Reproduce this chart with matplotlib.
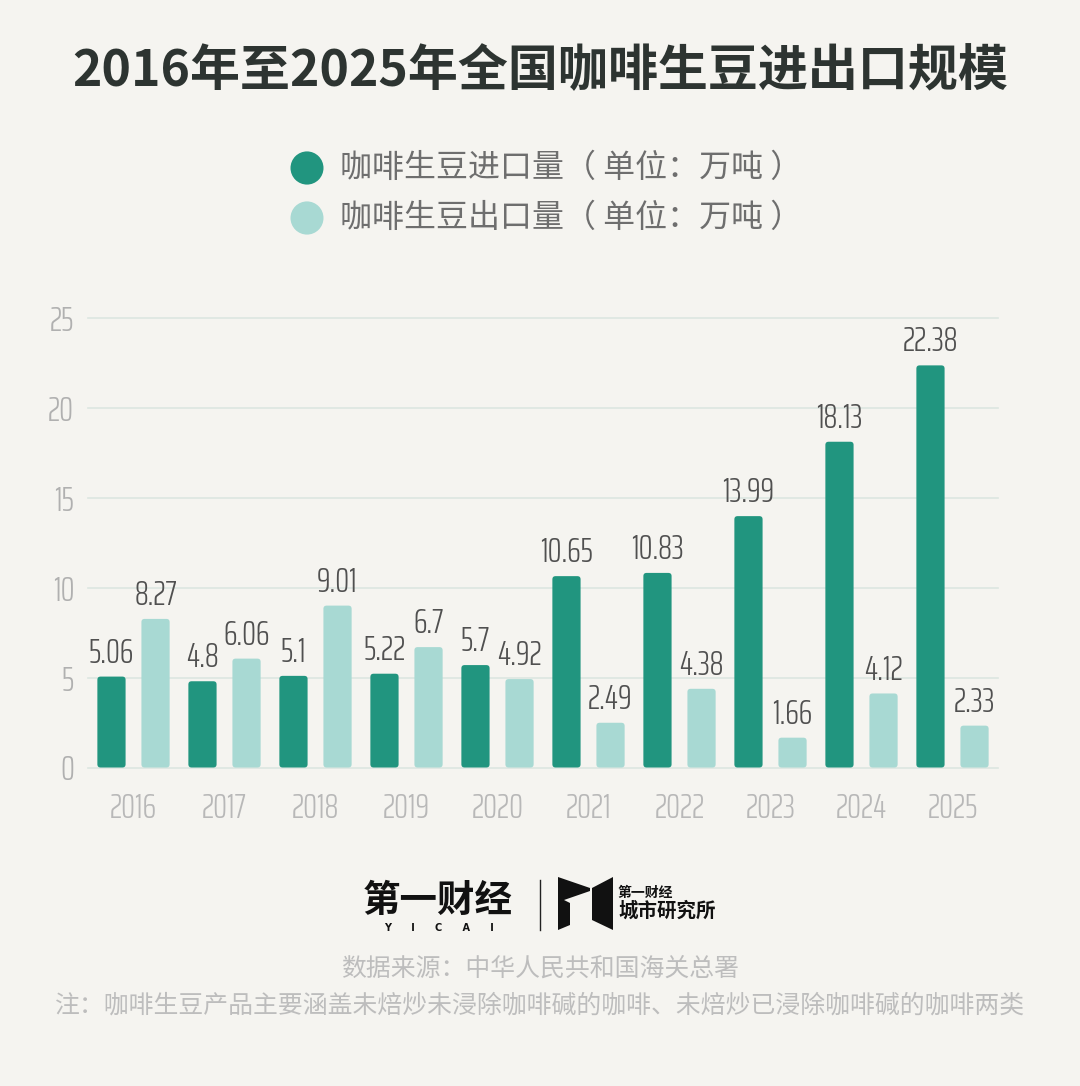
import matplotlib
matplotlib.use("Agg")
import matplotlib.pyplot as plt
from matplotlib.patches import FancyBboxPatch, Polygon, Circle
from matplotlib.lines import Line2D
import numpy as np

# ---- data ----
years = ["2016", "2017", "2018", "2019", "2020", "2021", "2022", "2023", "2024", "2025"]
imports = [5.06, 4.8, 5.1, 5.22, 5.7, 10.65, 10.83, 13.99, 18.13, 22.38]
exports = [8.27, 6.06, 9.01, 6.7, 4.92, 2.49, 4.38, 1.66, 4.12, 2.33]
y_ticks = [0, 5, 10, 15, 20, 25]

title = "2016年至2025年全国咖啡生豆进出口规模"
legend_labels = ["咖啡生豆进口量（ 单位：万吨 ）", "咖啡生豆出口量（ 单位：万吨 ）"]
source_text = "数据来源：中华人民共和国海关总署"
note_text = "注：咖啡生豆产品主要涵盖未焙炒未浸除咖啡碱的咖啡、未焙炒已浸除咖啡碱的咖啡两类"

# ---- style ----
BG = "#F5F4F0"
DARK = "#21957F"
LIGHT = "#A8D9D3"
GRID = "#DCE6E1"
CJK = ["Noto Sans CJK SC", "DejaVu Sans"]
NUM = ["Saira ExtraCondensed", "DejaVu Sans"]

plt.rcParams["font.family"] = CJK

W, H = 1080, 1086
fig = plt.figure(figsize=(W / 100, H / 100), dpi=100, facecolor=BG)


def fx(x):
    return x / W


def fy(y):
    return 1 - y / H


ax_left, ax_right = 88, 998
ax_top, ax_bottom = 318.3, 767.5
ax = fig.add_axes([fx(ax_left), fy(ax_bottom), fx(ax_right - ax_left), (ax_bottom - ax_top) / H])
ax.set_facecolor(BG)

x = np.arange(len(years))
bw = 0.31
off = 0.242
b1 = ax.bar(x - off, imports, width=bw, color=DARK, zorder=3)
b2 = ax.bar(x + off, exports, width=bw, color=LIGHT, zorder=3)

ax.set_xlim(-0.5, len(years) - 0.5)
ax.set_ylim(0, 25)

# rounded corners on bars
px_per_x = (ax_right - ax_left) / len(years)
px_per_y = (ax_bottom - ax_top) / 25
aspect = px_per_x / px_per_y
for bars in (b1, b2):
    for r in bars:
        p = FancyBboxPatch((r.get_x(), r.get_y()), r.get_width(), r.get_height(),
                           boxstyle="round,pad=0,rounding_size=0.035",
                           mutation_aspect=aspect, fc=r.get_facecolor(), ec="none", zorder=3)
        ax.add_patch(p)
        r.set_visible(False)

ax.bar_label(b1, labels=[f"{v:g}" for v in imports], padding=5, color="#505050",
             fontsize=25, family=NUM, fontweight=300)
ax.bar_label(b2, labels=[f"{v:g}" for v in exports], padding=5, color="#505050",
             fontsize=25, family=NUM, fontweight=300)

ax.set_yticks(y_ticks)
ax.set_yticklabels([str(t) for t in y_ticks], family=NUM, fontsize=25, fontweight=300,
                   color="#B0B0B0")
ax.set_xticks(x)
ax.set_xticklabels(years, family=NUM, fontsize=25, fontweight=300, color="#B8B8B8")
ax.tick_params(axis="both", length=0)
ax.tick_params(axis="y", pad=10)
ax.tick_params(axis="x", pad=18)
ax.grid(axis="y", color=GRID, linewidth=1.2, zorder=0)
ax.set_axisbelow(True)
for s in ax.spines.values():
    s.set_visible(False)
for gl in ax.get_ygridlines():
    gl.set_clip_on(False)

# ---- title ----
fig.text(0.5, fy(72), title, ha="center", va="center", fontsize=36, fontweight="heavy",
         color="#2D3431")

# ---- legend ----
for i, (lab, col) in enumerate(zip(legend_labels, [DARK, LIGHT])):
    cy = 168 + 50 * i
    fig.patches.append(Circle((fx(307), fy(cy)), radius=16.5 / W, transform=fig.transFigure,
                              fc=col, ec="none"))
    fig.text(fx(340), fy(cy), lab, ha="left", va="center", fontsize=23, color="#6E6E6E")

# ---- logo ----
fig.text(fx(363), fy(900), "第一财经", ha="left", va="center", fontsize=27, fontweight="heavy",
         color="#111111")
fig.text(fx(439), fy(928), "Y      I      C      A      I", ha="center", va="center",
         fontsize=7, fontweight="bold", color="#111111", family=["DejaVu Sans"])
fig.lines.append(Line2D([fx(540), fx(540)], [fy(880), fy(930)], transform=fig.transFigure,
                        color="#222222", linewidth=1))
left_shape = [(558, 877), (590, 888), (590, 891), (564, 900), (570, 903), (570, 925), (558, 930)]
right_shape = [(592, 888), (613, 877), (613, 930), (592, 920)]
for shp in (left_shape, right_shape):
    fig.patches.append(Polygon([(fx(a), fy(b)) for a, b in shp], closed=True,
                               transform=fig.transFigure, fc="#111111", ec="none"))
fig.text(fx(618), fy(893), "第一财经", ha="left", va="center", fontsize=10, fontweight="bold",
         color="#111111")
fig.text(fx(618), fy(911), "城市研究所", ha="left", va="center", fontsize=14, fontweight="bold",
         color="#111111")

# ---- source / note ----
fig.text(0.5, fy(969), source_text, ha="center", va="center", fontsize=17.9, color="#BDBDBD")
fig.text(0.5, fy(1005), note_text, ha="center", va="center", fontsize=17.9, color="#BDBDBD")

fig.savefig("out.png", dpi=100, facecolor=BG)
